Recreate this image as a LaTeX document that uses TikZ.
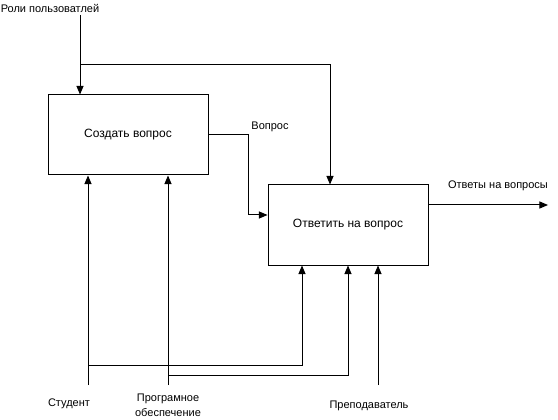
\documentclass[tikz,border=0pt]{standalone}
\usepackage{fontspec}
\setmainfont{Liberation Sans}
\usepackage{tikz}
\usetikzlibrary{arrows}
\tikzstyle{box}=[draw=black, line width=1pt, minimum width=160pt, minimum height=80pt, inner sep=0pt, font=\fontsize{12}{14}\selectfont]
\tikzstyle{lbl}=[inner sep=0pt, align=center, font=\fontsize{11}{15}\selectfont]
\tikzstyle{arr}=[line width=1pt, -triangle 45]
\begin{document}
\begin{tikzpicture}[x=1pt, y=-1pt]
    \useasboundingbox (0,0) rectangle (558,420);

    \node[box] (create) at (128,135) {Создать вопрос};
    \node[box] (answer) at (348,225) {Ответить на вопрос};

    \node[lbl] (roles) at (50,8) {Роли пользоватлей};
    \node[lbl] (question) at (270,127) {Вопрос};
    \node[lbl] (result) at (498,186) {Ответы на вопросы};
    \node[lbl] (student) at (69,404) {Студент};
    \node[lbl] (software) at (168,405) {Програмное\\обеспечение};
    \node[lbl] (teacher) at (369,406) {Преподаватель};

    \coordinate (rolesin) at (80,15);
    \coordinate (rolessplit) at (80,65);
    \coordinate (resultout) at (548,205);
    \coordinate (studentin) at (88,385);
    \coordinate (studentsplit) at (88,365);
    \coordinate (softwarein) at (168,385);
    \coordinate (softwaresplit) at (168,375);
    \coordinate (teacherin) at (378,385);

    % control
    \draw[arr] (rolesin) -- (rolesin |- create.north);
    \draw[arr] (rolessplit) -| ([xshift=-18pt]answer.north);

    % input / output
    \draw[arr] (create.east) -- ++(40,0) |- ([yshift=10pt]answer.west);
    \draw[arr] ([yshift=20pt]answer.east) -- (resultout);

    % mechanisms
    \draw[arr] (studentin) -- (studentin |- create.south);
    \draw[arr] (studentsplit) -| ([xshift=-46pt]answer.south);
    \draw[arr] (softwarein) -- (softwarein |- create.south);
    \draw[arr] (softwaresplit) -| (answer.south);
    \draw[arr] (teacherin) -- (teacherin |- answer.south);

  \end{tikzpicture}
\end{document}
